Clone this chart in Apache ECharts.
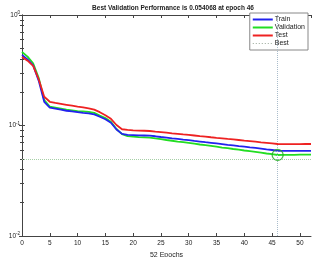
<!DOCTYPE html>
<html>
<head>
<meta charset="UTF-8">
<title>Best Validation Performance</title>
<script src="https://cdn.jsdelivr.net/npm/echarts@6/dist/echarts.min.js"></script>
<style>
    html, body { margin: 0; padding: 0; background: #fff; }
    #perf_chart { width: 312px; height: 257px; }
</style>
</head>
<body>
<div id="perf_chart"></div>
<script>
    // epochs and mse per epoch
    var epochs = [0,1,2,3,4,5,6,7,8,9,10,11,12,13,14,15,16,17,18,19,20,21,22,23,24,25,26,
                  27,28,29,30,31,32,33,34,35,36,37,38,39,40,41,42,43,44,45,46,47,48,49,50,51,52];
    var train_mse = [0.435,0.397,0.351,0.255,0.164,0.145,0.142,0.139,0.136,0.134,0.132,0.130,0.129,
                     0.126,0.120,0.114,0.106,0.092,0.0840,0.0822,0.0818,0.0814,0.0812,0.0809,0.0799,
                     0.0787,0.0777,0.0766,0.0756,0.0745,0.0736,0.0725,0.0716,0.0706,0.0697,0.0688,
                     0.0679,0.0669,0.0661,0.0651,0.0643,0.0634,0.0626,0.0617,0.0608,0.0600,0.0591,
                     0.0590,0.0590,0.0589,0.0589,0.0589,0.0589];
    var val_mse = [0.463,0.420,0.366,0.270,0.170,0.148,0.145,0.142,0.139,0.137,0.135,0.134,0.133,
                   0.130,0.123,0.117,0.108,0.093,0.0835,0.0800,0.0792,0.0786,0.0781,0.0776,0.0763,
                   0.0752,0.0739,0.0728,0.0716,0.0706,0.0695,0.0684,0.0673,0.0663,0.0653,0.0643,
                   0.0632,0.0623,0.0613,0.0604,0.0594,0.0585,0.0576,0.0567,0.0558,0.0550,0.054068,
                   0.0542,0.0543,0.0543,0.0544,0.0544,0.0545];
    var test_mse = [0.417,0.386,0.346,0.262,0.182,0.164,0.160,0.157,0.154,0.151,0.148,0.146,0.143,
                    0.139,0.132,0.124,0.115,0.101,0.0925,0.0911,0.0905,0.0900,0.0896,0.0892,0.0881,
                    0.0872,0.0861,0.0850,0.0841,0.0831,0.0822,0.0812,0.0802,0.0793,0.0783,0.0774,
                    0.0766,0.0756,0.0748,0.0739,0.0730,0.0722,0.0714,0.0705,0.0697,0.0689,0.0680,
                    0.0678,0.0678,0.0679,0.0679,0.0680,0.0680];
    var best_epoch = 46;
    var best_mse = 0.054068;

    function pairs(list) {
        return epochs.map(function (e, i) { return [e, list[i]]; });
    }

    var font = 'Liberation Sans, Arial, sans-serif';
    var frame = '#444';
    // legend icons: a solid stroke and a dotted one
    var solid_icon = 'path://M0,0h20v2h-20z';
    var dotted_icon = 'path://M0,0h1v1h-1z M3,0h1v1h-1z M6,0h1v1h-1z M9,0h1v1h-1z M12,0h1v1h-1z M15,0h1v1h-1z M18,0h1v1h-1z M20,0v1z';

    var perf_chart = echarts.init(document.getElementById('perf_chart'));
    var option = {
        animation: false,
        title: {
            text: 'Best Validation Performance is ' + best_mse + ' at epoch ' + best_epoch,
            left: 168, top: 0, textAlign: 'center',
            textStyle: { fontFamily: font, fontSize: 6.5, fontWeight: 'bold', color: '#222' }
        },
        legend: {
            orient: 'vertical',
            right: 4, top: 13,
            data: [
                { name: 'Train', icon: solid_icon },
                { name: 'Validation', icon: solid_icon },
                { name: 'Test', icon: solid_icon },
                { name: 'Best', icon: dotted_icon }
            ],
            itemWidth: 20, itemHeight: 2, itemGap: 1,
            padding: [3, 3, 3, 3],
            backgroundColor: '#fff',
            borderColor: '#888', borderWidth: 1, borderRadius: 0,
            textStyle: { fontFamily: font, fontSize: 7, color: '#222', padding: [0, 0, 0, -3] }
        },
        grid: { left: 22, right: 1, top: 15, bottom: 21, outerBoundsMode: 'none' },
        xAxis: [{
            type: 'value', min: 0, max: 52, interval: 5,
            name: '52 Epochs', nameLocation: 'middle', nameGap: 13,
            nameTextStyle: { fontFamily: font, fontSize: 7, color: '#222' },
            axisLine: { lineStyle: { color: frame } },
            axisTick: { inside: true, length: 3, lineStyle: { color: frame } },
            axisLabel: { fontFamily: font, fontSize: 6.5, color: '#222', margin: 4, showMaxLabel: false },
            splitLine: { show: false }
        }, {
            type: 'value', min: 0, max: 52, interval: 5, position: 'top',
            axisLine: { lineStyle: { color: frame } },
            axisTick: { inside: true, length: 3, lineStyle: { color: frame } },
            axisLabel: { show: false },
            splitLine: { show: false }
        }],
        yAxis: [{
            type: 'log', logBase: 10, min: 0.01, max: 1,
            name: 'Mean Squared Error  (mse)', nameLocation: 'middle', nameGap: 14,
            nameTextStyle: { fontFamily: font, fontSize: 6.5, color: '#222' },
            axisLine: { show: true, lineStyle: { color: frame } },
            axisTick: { inside: true, length: 3, lineStyle: { color: frame } },
            minorTick: { show: true, splitNumber: 9, length: 2, lineStyle: { color: frame } },
            axisLabel: {
                fontFamily: font, fontSize: 6.5, color: '#222', margin: 2,
                formatter: function (v) {
                    return '{b|10}{s|' + Math.round(Math.log10(v)) + '}';
                },
                rich: {
                    b: { fontFamily: font, fontSize: 6.5, color: '#222' },
                    s: { fontFamily: font, fontSize: 4.5, color: '#222', verticalAlign: 'top', padding: [0, 0, 4, 0] }
                }
            },
            splitLine: { show: false }
        }, {
            type: 'log', logBase: 10, min: 0.01, max: 1, position: 'right',
            axisLine: { show: true, lineStyle: { color: frame } },
            axisTick: { inside: true, length: 3, lineStyle: { color: frame } },
            minorTick: { show: true, splitNumber: 9, length: 2, lineStyle: { color: frame } },
            axisLabel: { show: false },
            splitLine: { show: false }
        }],
        series: [{
            name: 'Train', type: 'line', data: pairs(train_mse),
            symbol: 'none', color: '#2222ee', lineStyle: { width: 1.8 }, z: 4
        }, {
            name: 'Validation', type: 'line', data: pairs(val_mse),
            symbol: 'none', color: '#22dd22', lineStyle: { width: 1.8 }, z: 3
        }, {
            name: 'Test', type: 'line', data: pairs(test_mse),
            symbol: 'none', color: '#ee2222', lineStyle: { width: 1.8 }, z: 5
        }, {
            name: 'Best', type: 'line', data: [[best_epoch, best_mse]],
            symbol: 'none', color: '#99a899', lineStyle: { width: 1, type: 'dotted' },
            markLine: {
                silent: true, symbol: 'none', label: { show: false },
                data: [
                    { yAxis: best_mse, lineStyle: { color: '#a6cfa6', type: 'dotted', width: 1 } },
                    { xAxis: best_epoch, lineStyle: { color: '#a9bccb', type: 'dotted', width: 1 } }
                ]
            }
        }, {
            name: 'best point', type: 'scatter', data: [[best_epoch, best_mse]],
            symbol: 'circle', symbolSize: 11, z: 6,
            itemStyle: { color: 'rgba(0,0,0,0)', borderColor: '#22aa22', borderWidth: 1.3 }
        }]
    };
    perf_chart.setOption(option);
</script>
</body>
</html>
